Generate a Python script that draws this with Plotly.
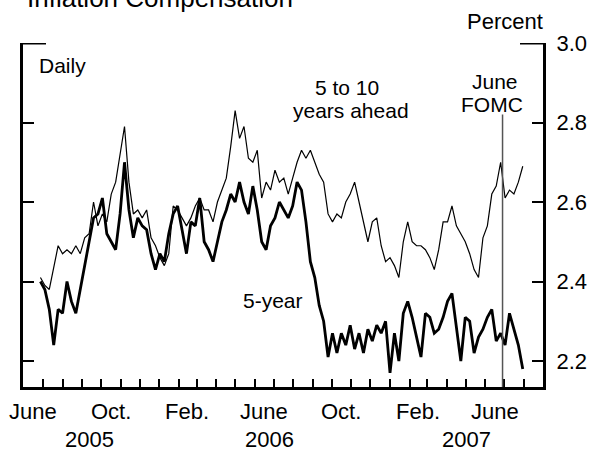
import pandas as pd
import plotly.graph_objects as go

# Weekly observation dates (x categories)
dates = pd.date_range("2005-06-27", periods=110, freq="7D")

five_to_ten = [
    2.41, 2.39, 2.38, 2.44, 2.49, 2.47, 2.48, 2.47, 2.49, 2.47,
    2.51, 2.52, 2.60, 2.54, 2.57, 2.55, 2.62, 2.65, 2.72, 2.79,
    2.65, 2.57, 2.58, 2.56, 2.58, 2.51, 2.49, 2.46, 2.44, 2.47,
    2.59, 2.58, 2.56, 2.54, 2.56, 2.59, 2.61, 2.58, 2.58, 2.55,
    2.60, 2.63, 2.66, 2.74, 2.83, 2.76, 2.79, 2.71, 2.70, 2.73,
    2.61, 2.65, 2.63, 2.68, 2.65, 2.66, 2.62, 2.66, 2.70, 2.73,
    2.71, 2.73, 2.70, 2.67, 2.65, 2.57, 2.55, 2.57, 2.56, 2.60,
    2.62, 2.65, 2.60, 2.55, 2.50, 2.55, 2.56, 2.49, 2.45, 2.46,
    2.44, 2.41, 2.50, 2.55, 2.50, 2.49, 2.49, 2.48, 2.46, 2.43,
    2.48, 2.55, 2.55, 2.59, 2.54, 2.52, 2.50, 2.47, 2.43, 2.41,
    2.51, 2.54, 2.62, 2.64, 2.70, 2.61, 2.63, 2.62, 2.65, 2.69,
]

five_year = [
    2.40, 2.38, 2.33, 2.24, 2.33, 2.32, 2.40, 2.35, 2.32, 2.38,
    2.44, 2.51, 2.56, 2.57, 2.61, 2.52, 2.50, 2.48, 2.57, 2.70,
    2.58, 2.51, 2.56, 2.54, 2.53, 2.47, 2.43, 2.47, 2.45, 2.52,
    2.57, 2.59, 2.53, 2.47, 2.55, 2.54, 2.61, 2.50, 2.48, 2.45,
    2.50, 2.55, 2.58, 2.62, 2.60, 2.65, 2.60, 2.57, 2.64, 2.58,
    2.50, 2.48, 2.54, 2.56, 2.60, 2.58, 2.56, 2.59, 2.65, 2.63,
    2.55, 2.45, 2.41, 2.34, 2.30, 2.21, 2.27, 2.22, 2.27, 2.24,
    2.29, 2.23, 2.27, 2.22, 2.28, 2.25, 2.29, 2.27, 2.30, 2.17,
    2.27, 2.20, 2.32, 2.35, 2.31, 2.26, 2.21, 2.32, 2.31, 2.27,
    2.28, 2.31, 2.35, 2.37, 2.29, 2.20, 2.31, 2.30, 2.22, 2.26,
    2.28, 2.31, 2.33, 2.25, 2.27, 2.24, 2.32, 2.28, 2.24, 2.18,
]

y_ticks = [2.2, 2.4, 2.6, 2.8, 3.0]
y_tick_text = ["2.2", "2.4", "2.6", "2.8", "3.0"]

month_labels = ["June", "Oct.", "Feb.", "June", "Oct.", "Feb.", "June"]
month_label_dates = ["2005-06-16", "2005-10-16", "2006-02-14", "2006-06-16",
                     "2006-10-16", "2007-02-14", "2007-06-16"]
year_labels = ["2005", "2006", "2007"]
year_label_dates = ["2005-09-13", "2006-06-25", "2007-05-02"]

fomc_date = "2007-06-28"

FONT = "Liberation Sans, Arial, Helvetica, sans-serif"
FS = 21
FS_AX = 22

fig = go.Figure()
fig.add_trace(go.Scatter(x=dates, y=five_to_ten, mode="lines",
                         line=dict(color="black", width=1.2), showlegend=False))
fig.add_trace(go.Scatter(x=dates, y=five_year, mode="lines",
                         line=dict(color="black", width=2.8), showlegend=False))

x_range = ["2005-05-30 10:00", "2007-08-31"]
y_range = [2.1346, 3.0]

fig.update_layout(
    width=598, height=454,
    margin=dict(l=23, r=55, t=43, b=67),
    paper_bgcolor="white", plot_bgcolor="white",
    font=dict(family=FONT, size=FS, color="black"),
    xaxis=dict(range=x_range, showgrid=False, zeroline=False, automargin=False,
               showline=True, linecolor="black", linewidth=3,
               ticks="inside", ticklen=8, tickwidth=2, tickcolor="black",
               dtick="M1", tick0="2005-06-01", showticklabels=False),
    yaxis=dict(range=y_range, side="right", showgrid=False, zeroline=False,
               automargin=False,
               showline=True, linecolor="black", linewidth=3, mirror="allticks",
               ticks="inside", ticklen=11, tickwidth=2, tickcolor="black",
               tickvals=y_ticks, ticktext=y_tick_text,
               ticklabelstandoff=6,
               tickfont=dict(family=FONT, size=FS_AX, color="black")),
)

# top bracket ends
fig.add_shape(type="line", xref="paper", yref="y", x0=0, x1=23/520, y0=3.0, y1=3.0,
              line=dict(color="black", width=3))
fig.add_shape(type="line", xref="paper", yref="y", x0=1-23/520, x1=1, y0=3.0, y1=3.0,
              line=dict(color="black", width=3))
# FOMC line
fig.add_shape(type="line", xref="x", yref="y", x0=fomc_date, x1=fomc_date,
              y0=y_range[0], y1=2.82, line=dict(color="#555555", width=1.5))

def px_y(py):
    # paper y from pixel y (top-based)
    return (454 - 67 - py) / 344.0

ann = []
for lab, d in zip(month_labels, month_label_dates):
    ann.append(dict(x=d, xref="x", y=px_y(412), yref="paper", text=lab,
                    showarrow=False, xanchor="center", yanchor="middle",
                    font=dict(size=FS_AX)))
for lab, d in zip(year_labels, year_label_dates):
    ann.append(dict(x=d, xref="x", y=px_y(454), yref="paper", text=lab,
                    showarrow=False, xanchor="center", yanchor="bottom",
                    font=dict(size=FS_AX)))

def pxx(px):
    return (px - 23) / 520.0

ann += [
    dict(x=pxx(25), y=px_y(-2), xref="paper", yref="paper", text="Inflation Compensation",
         showarrow=False, xanchor="left", yanchor="middle", font=dict(size=26)),
    dict(x=pxx(505), y=px_y(21), xref="paper", yref="paper", text="Percent",
         showarrow=False, xanchor="center", yanchor="middle", font=dict(size=FS_AX)),
    dict(x=pxx(37), y=px_y(65), xref="paper", yref="paper", text="Daily",
         showarrow=False, xanchor="left", yanchor="middle"),
    dict(x=pxx(347), y=px_y(87), xref="paper", yref="paper", text="5 to 10",
         showarrow=False, xanchor="center", yanchor="middle"),
    dict(x=pxx(351), y=px_y(110), xref="paper", yref="paper", text="years ahead",
         showarrow=False, xanchor="center", yanchor="middle"),
    dict(x=pxx(495), y=px_y(81), xref="paper", yref="paper", text="June",
         showarrow=False, xanchor="center", yanchor="middle"),
    dict(x=pxx(492), y=px_y(104), xref="paper", yref="paper", text="FOMC",
         showarrow=False, xanchor="center", yanchor="middle"),
    dict(x=pxx(273), y=px_y(300), xref="paper", yref="paper", text="5-year",
         showarrow=False, xanchor="center", yanchor="middle"),
]
fig.update_layout(annotations=ann)

fig.write_html("out.html", config={"displayModeBar": False},
               post_script="document.body.style.margin='0px';")
